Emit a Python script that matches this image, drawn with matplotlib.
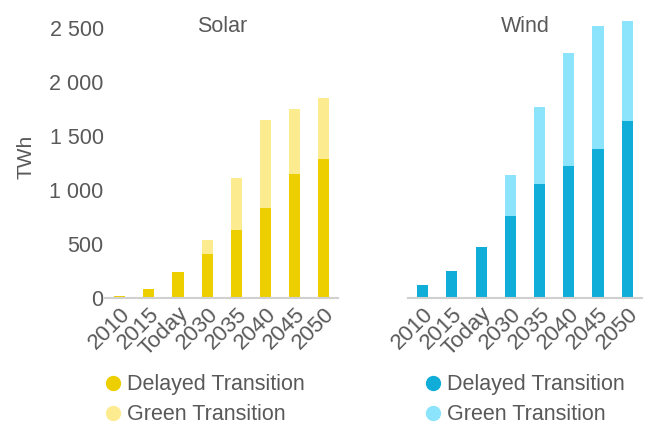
import matplotlib.pyplot as plt
from matplotlib.lines import Line2D
from matplotlib.ticker import FuncFormatter

plt.rcParams['font.family'] = ['Liberation Sans', 'DejaVu Sans']

years = ["2010", "2015", "Today", "2030", "2035", "2040", "2045", "2050"]

# TWh, delayed scenario and green scenario totals
solar_delayed = [18, 83, 238, 407, 624, 833, 1145, 1284]
solar_green = [18, 83, 238, 537, 1111, 1648, 1750, 1849]
wind_delayed = [117, 247, 467, 759, 1056, 1222, 1380, 1639]
wind_green = [117, 247, 467, 1139, 1766, 2269, 2519, 2562]

grey = "#595959"
colors = {
    "Solar": ("#EDCF00", "#FCEC8F"),
    "Wind": ("#10ADD9", "#8BE4FB"),
}

fig = plt.figure(figsize=(6.57, 4.25), dpi=100)
ax1 = fig.add_axes([0.160, 0.2995, 0.355, 0.661])
ax2 = fig.add_axes([0.621, 0.2995, 0.356, 0.661])

panels = [
    (ax1, "Solar", solar_delayed, solar_green, 0.159),
    (ax2, "Wind", wind_delayed, wind_green, 0.646),
]

x = list(range(len(years)))
for ax, name, delayed, green, leg_x in panels:
    dark, light = colors[name]
    extra = [g - d for g, d in zip(green, delayed)]
    ax.bar(x, delayed, width=0.38, color=dark)
    ax.bar(x, extra, bottom=delayed, width=0.38, color=light)
    ax.set_xlim(-0.5, 7.5)
    ax.set_ylim(0, 2600)
    ax.set_xticks(x)
    ax.set_xticklabels(years, rotation=45, ha="right", rotation_mode="anchor",
                       fontsize=16, color=grey)
    for s in ["top", "right", "left"]:
        ax.spines[s].set_visible(False)
    ax.spines["bottom"].set_color("#D0D0D0")
    ax.spines["bottom"].set_linewidth(1.5)
    ax.tick_params(axis="x", length=0, pad=4)
    ax.text(0.5, 0.965, name, transform=ax.transAxes, ha="center", va="center",
            fontsize=15.5, color=grey)

    handles = [
        Line2D([], [], marker="o", linestyle="", markersize=10, color=dark),
        Line2D([], [], marker="o", linestyle="", markersize=10, color=light),
    ]
    leg = fig.legend(handles, ["Delayed Transition", "Green Transition"],
                     loc="upper left", bbox_to_anchor=(leg_x, 0.119),
                     frameon=False, fontsize=15.5, handletextpad=0.25,
                     labelspacing=0.4, handlelength=0.78,
                     borderpad=0, borderaxespad=0)
    for t in leg.get_texts():
        t.set_color(grey)

ax1.set_yticks([0, 500, 1000, 1500, 2000, 2500])
ax1.yaxis.set_major_formatter(FuncFormatter(lambda v, p: f"{int(v):,}".replace(",", " ")))
ax1.tick_params(axis="y", length=0, pad=1, labelsize=15.5, labelcolor=grey)
ax1.set_ylabel("TWh", fontsize=15, color=grey)
ax1.yaxis.set_label_coords(-0.30, 0.5)
ax2.set_yticks([])

fig.savefig("out.png", dpi=100)
